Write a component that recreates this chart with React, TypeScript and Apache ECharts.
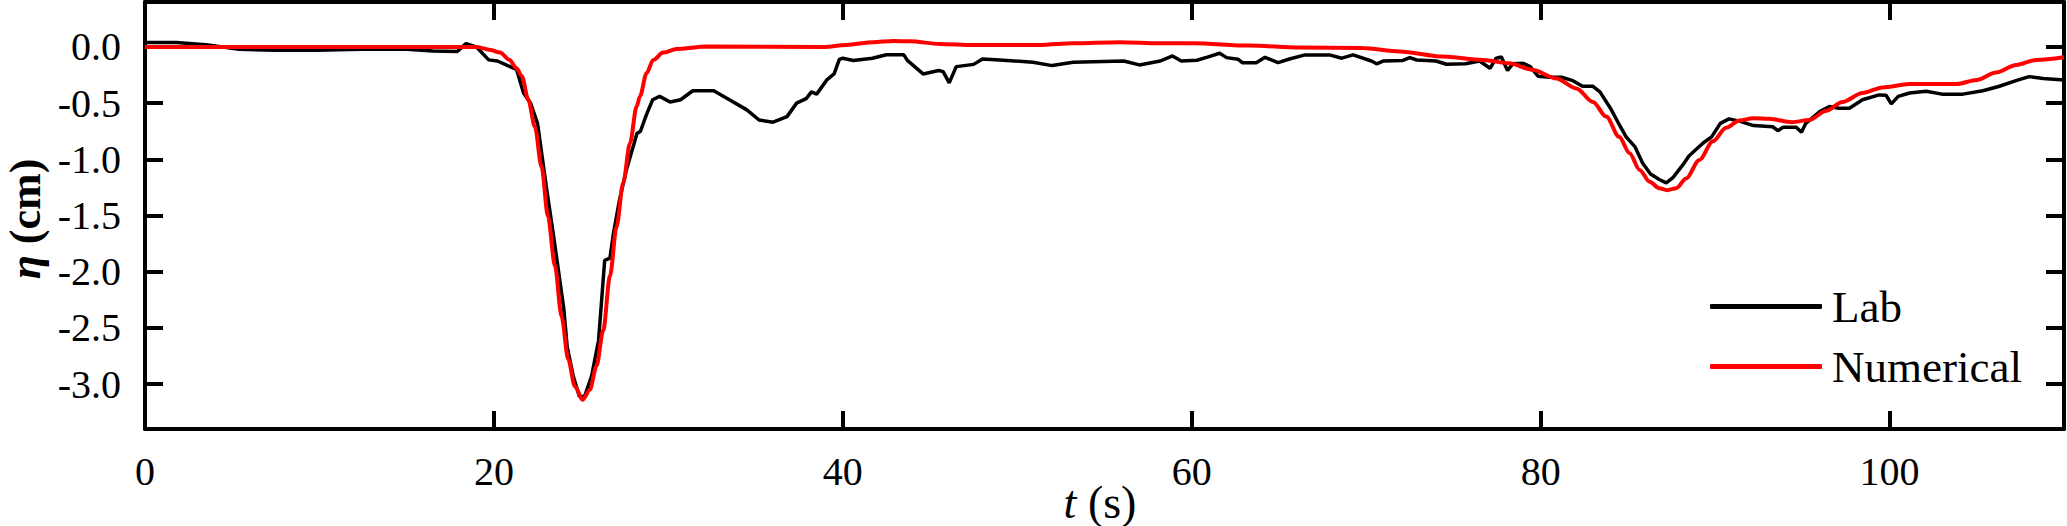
import React, { useEffect, useRef } from 'react';
import * as echarts from 'echarts';

const labTime = [0, 1.8, 3.5, 5.4, 7.4, 9.9, 12.4, 15.0, 16.5, 17.9, 18.4, 19.0, 19.7, 20.2, 20.7, 21.3, 21.7, 22.1, 22.5, 23.0, 23.4, 23.8, 24.0, 24.2, 24.55, 24.9, 25.2, 25.6, 26.0, 26.25, 26.35, 26.65, 26.85, 27.2, 27.6, 28.2, 28.4, 28.75, 29.1, 29.5, 30.1, 30.7, 31.4, 32.6, 33.5, 34.5, 35.2, 36.0, 36.8, 37.35, 37.9, 38.2, 38.5, 39.1, 39.5, 39.8, 40.0, 40.6, 41.7, 42.5, 43.5, 43.7, 44.6, 45.5, 45.75, 46.1, 46.5, 47.5, 48.0, 49.0, 50.9, 52.0, 53.2, 56.1, 57.0, 58.2, 58.9, 59.4, 60.3, 60.9, 61.6, 62.0, 62.65, 62.9, 63.7, 64.2, 64.95, 65.6, 66.5, 67.9, 68.6, 69.25, 70.3, 70.6, 71.0, 72.1, 72.5, 72.9, 74.0, 74.6, 75.7, 76.5, 77.1, 77.45, 77.75, 78.1, 78.4, 79.0, 79.4, 79.85, 80.5, 81.2, 81.85, 82.4, 83.0, 83.4, 84.0, 84.5, 84.9, 85.4, 85.85, 86.3, 86.8, 87.2, 87.6, 88.15, 88.5, 89.3, 89.8, 90.3, 90.8, 91.4, 92.2, 93.3, 93.6, 93.9, 94.65, 94.95, 95.2, 96.0, 96.55, 97.1, 97.7, 98.45, 99.4, 99.8, 100.1, 100.5, 101.15, 102.1, 103.0, 104.2, 105.35, 106.3, 107.25, 108.0, 108.8, 110];
const labEta = [0.04, 0.04, 0.02, -0.02, -0.03, -0.03, -0.02, -0.02, -0.035, -0.04, 0.03, 0.0, -0.115, -0.125, -0.16, -0.2, -0.41, -0.5, -0.68, -1.24, -1.66, -2.1, -2.32, -2.67, -2.93, -3.11, -3.11, -2.93, -2.61, -2.1, -1.9, -1.88, -1.66, -1.36, -1.09, -0.77, -0.75, -0.6, -0.47, -0.44, -0.49, -0.47, -0.39, -0.39, -0.47, -0.56, -0.65, -0.67, -0.62, -0.5, -0.46, -0.4, -0.42, -0.29, -0.24, -0.11, -0.1, -0.12, -0.1, -0.07, -0.07, -0.12, -0.24, -0.21, -0.22, -0.32, -0.175, -0.155, -0.107, -0.116, -0.136, -0.166, -0.136, -0.125, -0.16, -0.125, -0.08, -0.125, -0.118, -0.09, -0.056, -0.095, -0.109, -0.14, -0.14, -0.092, -0.14, -0.107, -0.071, -0.071, -0.1, -0.071, -0.125, -0.15, -0.125, -0.12, -0.095, -0.116, -0.125, -0.154, -0.15, -0.125, -0.19, -0.1, -0.09, -0.21, -0.15, -0.145, -0.175, -0.26, -0.27, -0.27, -0.3, -0.35, -0.35, -0.4, -0.545, -0.69, -0.8, -0.887, -1.035, -1.13, -1.18, -1.21, -1.16, -1.05, -0.97, -0.857, -0.8, -0.68, -0.64, -0.66, -0.7, -0.71, -0.745, -0.715, -0.715, -0.76, -0.68, -0.575, -0.53, -0.545, -0.545, -0.47, -0.427, -0.43, -0.507, -0.44, -0.41, -0.395, -0.42, -0.42, -0.39, -0.35, -0.3, -0.264, -0.28, -0.295];

const numTime = [0, 18, 19.0, 19.8, 20.35, 20.9, 21.3, 21.6, 21.97, 22.35, 22.73, 23.1, 23.5, 23.88, 24.26, 24.64, 25.08, 25.5, 25.88, 26.27, 26.65, 27.03, 27.41, 27.8, 28.18, 28.37, 28.75, 29.13, 29.7, 30.47, 32.2, 38.9, 40.2, 41.74, 42.9, 43.84, 45.56, 47.47, 51.3, 53.2, 55.87, 58.17, 60.1, 63.3, 66.2, 69.8, 71.9, 74.4, 76.7, 78.2, 79.56, 80.9, 82.05, 83.0, 83.76, 84.5, 85.1, 85.67, 86.25, 86.8, 87.25, 87.77, 88.34, 89.1, 89.87, 90.63, 91.4, 92.17, 93.1, 94.4, 95.4, 96.35, 97.3, 98.45, 99.6, 101.15, 102.7, 103.85, 105.0, 106.1, 107.26, 108.4, 110];
const numEta = [0.0, 0.0, 0.0, -0.027, -0.05, -0.116, -0.19, -0.26, -0.47, -0.71, -1.065, -1.51, -1.95, -2.4, -2.78, -3.02, -3.14, -3.05, -2.84, -2.52, -2.04, -1.6, -1.21, -0.857, -0.53, -0.44, -0.234, -0.116, -0.05, -0.018, 0.003, 0.0, 0.018, 0.042, 0.053, 0.05, 0.027, 0.018, 0.018, 0.033, 0.042, 0.033, 0.033, 0.012, -0.006, -0.01, -0.04, -0.086, -0.116, -0.145, -0.205, -0.28, -0.37, -0.49, -0.62, -0.8, -0.946, -1.094, -1.2, -1.257, -1.275, -1.257, -1.17, -1.005, -0.84, -0.72, -0.655, -0.635, -0.64, -0.67, -0.65, -0.57, -0.49, -0.41, -0.36, -0.33, -0.33, -0.33, -0.294, -0.228, -0.16, -0.116, -0.092];

const seriesNames = ['Lab', 'Numerical'];
const yTickValues = [-3.0, -2.5, -2.0, -1.5, -1.0, -0.5, 0.0];
const xRange = { min: 0, max: 110, interval: 20 };
const yRange = { min: -3.4, max: 0.4 };

const FONT = '"Liberation Serif", "Times New Roman", serif';

export default function App() {
  const ref = useRef<HTMLDivElement>(null);
  useEffect(() => {
    const chart = echarts.init(ref.current!, null, { renderer: 'svg' });
    const axisLine = { show: true, onZero: false, lineStyle: { color: '#000', width: 4 } };
    const tick = { show: true, inside: true, length: 18, lineStyle: { color: '#000', width: 4 } };
    const lab = labTime.map((t, i) => [t, labEta[i]]);
    const num = numTime.map((t, i) => [t, numEta[i]]);
    chart.setOption({
      animation: false,
      backgroundColor: '#fff',
      grid: { left: 145, right: 3, top: 2, bottom: 97, containLabel: false },
      xAxis: [
        {
          type: 'value', ...xRange, position: 'bottom',
          axisLine, axisTick: tick,
          axisLabel: { color: '#000', fontFamily: FONT, fontSize: 40, margin: 22, showMaxLabel: false },
          splitLine: { show: false },
        },
        {
          type: 'value', ...xRange, position: 'top',
          axisLine, axisTick: tick, axisLabel: { show: false }, splitLine: { show: false },
        },
      ],
      yAxis: [
        {
          type: 'value', ...yRange, position: 'left',
          axisLine, axisTick: { ...tick, customValues: yTickValues },
          axisLabel: {
            customValues: yTickValues, color: '#000', fontFamily: FONT, fontSize: 40, margin: 24,
            formatter: (v: number) => v.toFixed(1),
          },
          splitLine: { show: false },
        },
        {
          type: 'value', ...yRange, position: 'right',
          axisLine, axisTick: { ...tick, customValues: yTickValues },
          axisLabel: { show: false }, splitLine: { show: false },
        },
      ],
      legend: {
        orient: 'vertical', left: 1710, top: 284, itemWidth: 112, itemHeight: 5, itemGap: 15, padding: 0,
        icon: 'roundRect',
        textStyle: { fontFamily: FONT, fontSize: 45, color: '#000', padding: [0, 0, 0, 5] },
        data: seriesNames,
      },
      graphic: [
        {
          type: 'text', x: 25, y: 219, rotation: Math.PI / 2,
          style: {
            text: '{i|η} {b|(cm)}',
            fontFamily: FONT, fontSize: 44, fontWeight: 'bold', fill: '#000',
            align: 'center', verticalAlign: 'middle',
            rich: {
              i: { fontFamily: FONT, fontSize: 44, fontStyle: 'italic', fontWeight: 'bold', fill: '#000' },
              b: { fontFamily: FONT, fontSize: 44, fontWeight: 'bold', fill: '#000' },
            },
          },
        },
        {
          type: 'text', x: 1100, y: 502,
          style: {
            text: '{i|t} {r|(s)}',
            fontFamily: FONT, fontSize: 46, fill: '#000',
            align: 'center', verticalAlign: 'middle',
            rich: {
              i: { fontFamily: FONT, fontSize: 46, fontStyle: 'italic', fill: '#000' },
              r: { fontFamily: FONT, fontSize: 46, fill: '#000' },
            },
          },
        },
      ],
      series: [
        {
          name: seriesNames[0], type: 'line', data: lab, showSymbol: false, symbol: 'none',
          lineStyle: { color: '#000', width: 3.5 }, itemStyle: { color: '#000' }, z: 2,
        },
        {
          name: seriesNames[1], type: 'line', data: num, showSymbol: false, symbol: 'none',
          smooth: 0.3, smoothMonotone: 'x',
          lineStyle: { color: '#ff0000', width: 4 }, itemStyle: { color: '#ff0000' }, z: 3,
        },
      ],
    });
    return () => chart.dispose();
  }, []);
  return <div ref={ref} style={{ position: 'fixed', left: 0, top: 0, width: 2067, height: 526 }} />;
}
